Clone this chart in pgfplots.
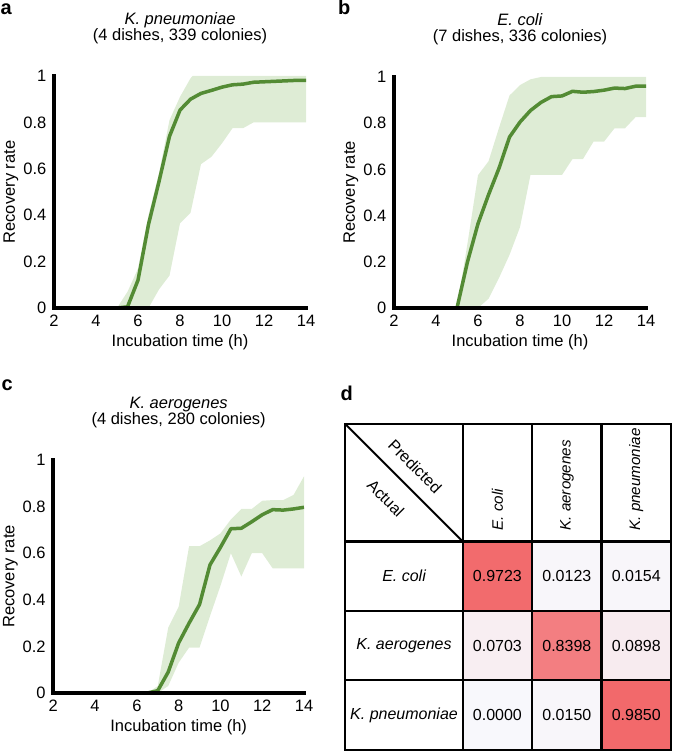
\documentclass[border=0pt]{standalone}
\usepackage{fontspec}
\setmainfont{Liberation Sans}
\usepackage{pgfplots}
\usepackage{pgfplotstable}
\pgfplotsset{compat=1.18}
\usepgfplotslibrary{fillbetween}
\definecolor{lgreen}{RGB}{83,139,52}
\definecolor{bgreen}{RGB}{222,236,213}
\newcommand{\fs}{\fontsize{16.5}{15.7}\selectfont}
\newcommand{\ft}{\fontsize{16}{19}\selectfont}
\newcommand{\fh}{\fontsize{15.2}{18}\selectfont}

\pgfplotstableread{
t v
2 0
5 0
5.5 0.005
6 0.12
6.5 0.36
7 0.545
7.5 0.74
8 0.853
8.5 0.90
9 0.925
9.5 0.938
10 0.952
10.5 0.962
11 0.965
11.5 0.973
12 0.975
12.5 0.977
13 0.979
13.5 0.981
14 0.981
}\aline
\pgfplotstableread{
t v
2 0
5 0
5.5 0.07
6 0.17
6.5 0.40
7 0.58
7.5 0.81
8 0.91
8.5 0.99
8.6 1
14 1
}\aup
\pgfplotstableread{
t v
2 0
6.5 0
7 0.08
7.5 0.14
8 0.365
8.5 0.41
9 0.62
9.5 0.652
10 0.71
10.5 0.775
11 0.775
11.5 0.80
14 0.80
}\alow

\pgfplotstableread{
t v
2 0
5 0
5.5 0.2
6 0.365
6.5 0.49
7 0.605
7.5 0.74
8 0.805
8.5 0.855
9 0.89
9.5 0.915
10 0.918
10.5 0.938
11 0.934
11.5 0.937
12 0.943
12.5 0.952
13 0.95
13.5 0.96
14 0.96
}\bline
\pgfplotstableread{
t v
2 0
5 0
5.5 0.28
6 0.575
6.5 0.635
7 0.78
7.5 0.92
8 0.965
8.5 0.99
9 1
14 1
}\bup
\pgfplotstableread{
t v
2 0
6 0
6.5 0.04
7 0.13
7.5 0.23
8 0.35
8.5 0.576
10 0.576
10.5 0.645
11 0.645
11.5 0.72
12 0.72
12.5 0.778
13 0.778
13.5 0.826
14 0.826
}\blow

\pgfplotstableread{
t v
2 0
6.5 0
7 0.01
7.5 0.09
8 0.215
8.5 0.30
9 0.38
9.5 0.55
10 0.625
10.5 0.705
11 0.707
11.5 0.735
12 0.765
12.5 0.787
13 0.785
13.5 0.79
14 0.797
}\cline
\pgfplotstableread{
t v
2 0
6.5 0
7 0.03
7.5 0.28
8 0.37
8.5 0.63
9 0.63
9.5 0.655
10 0.685
10.5 0.745
11 0.79
11.5 0.79
12 0.825
12.5 0.828
13 0.828
13.5 0.85
14 0.93
}\cup
\pgfplotstableread{
t v
2 0
7 0
7.5 0.03
8 0.13
8.5 0.195
9 0.195
9.5 0.33
10 0.46
10.5 0.6
11 0.5
11.5 0.6
12 0.6
12.5 0.535
14 0.535
}\clow

\pgfplotsset{
 curve/.style={
  scale only axis, axis on top,
  xmin=2,xmax=14,ymin=0,ymax=1,
  xtick={2,4,6,8,10,12,14}, xticklabels={2,4,6,8,10,12,14},
  ytick={0,0.2,0.4,0.6,0.8,1}, yticklabels={0,0.2,0.4,0.6,0.8,1},
  axis x line*=bottom, axis y line*=left,
  axis line style={line width=4pt, line cap=rect, -},
  every outer x axis line/.append style={-},
  every outer y axis line/.append style={-},
  major tick length=0pt,
  tick style={draw=none},
  tick label style={font=\fs},
  label style={font=\fs},
  yticklabel style={anchor=east, inner sep=0pt, xshift=-7.5pt},
  xticklabel style={anchor=base, inner sep=0pt, yshift=-18.5pt},
  xlabel={Incubation time (h)}, ylabel={Recovery rate},
  title style={font=\fs, align=center, anchor=south, at={(axis description cs:0.5,1)}, inner sep=0pt, yshift=25.8pt},
 },
 band/.style={fill=bgreen, draw=none},
 mline/.style={lgreen, line width=3.5pt, line join=round},
}

\begin{document}
\begin{tikzpicture}

% panel a
\begin{axis}[curve, at={(54pt,-308pt)}, anchor=south west, width=252pt, height=232pt,
  title={\textit{K. pneumoniae}\\(4 dishes, 339 colonies)},
  xlabel style={at={(axis description cs:0.5,-0.1668)}, anchor=base, inner sep=0pt},
  ylabel style={at={(axis description cs:-0.1548,0.5)}, anchor=base, inner sep=0pt}]
\addplot[name path=U, draw=none] table[x=t,y=v] {\aup};
\addplot[name path=L, draw=none] table[x=t,y=v] {\alow};
\addplot[band] fill between[of=U and L];
\addplot[mline] table[x=t,y=v] {\aline};
\end{axis}

% panel b
\begin{axis}[curve, at={(394pt,-308pt)}, anchor=south west, width=252pt, height=231pt,
  title={\textit{E. coli}\\(7 dishes, 336 colonies)},
  xlabel style={at={(axis description cs:0.5,-0.1675)}, anchor=base, inner sep=0pt},
  ylabel style={at={(axis description cs:-0.1548,0.5)}, anchor=base, inner sep=0pt}]
\addplot[name path=U, draw=none] table[x=t,y=v] {\bup};
\addplot[name path=L, draw=none] table[x=t,y=v] {\blow};
\addplot[band] fill between[of=U and L];
\addplot[mline] table[x=t,y=v] {\bline};
\end{axis}

% panel c
\begin{axis}[curve, at={(53.3pt,-693pt)}, anchor=south west, width=250.7pt, height=233pt,
  title={\textit{K. aerogenes}\\(4 dishes, 280 colonies)},
  xlabel style={at={(axis description cs:0.5,-0.1661)}, anchor=base, inner sep=0pt},
  ylabel style={at={(axis description cs:-0.1556,0.5)}, anchor=base, inner sep=0pt}]
\addplot[name path=U, draw=none] table[x=t,y=v] {\cup};
\addplot[name path=L, draw=none] table[x=t,y=v] {\clow};
\addplot[band] fill between[of=U and L];
\addplot[mline] table[x=t,y=v] {\cline};
\end{axis}

% panel d
\begin{axis}[at={(462.7pt,-749.7pt)}, anchor=south west, scale only axis,
  width=208.3pt, height=208.3pt, xmin=0, xmax=3, ymin=0, ymax=3,
  hide axis, clip=false,
  colormap={pinks}{rgb255=(248,248,252) rgb255=(242,104,106)},
  point meta min=0, point meta max=1]
\addplot[matrix plot*, mesh/cols=3, point meta=explicit, draw=none] table[meta=v] {
x y v
0.5 0.5 0.0000
1.5 0.5 0.0150
2.5 0.5 0.9850
0.5 1.5 0.0703
1.5 1.5 0.8398
2.5 1.5 0.0898
0.5 2.5 0.9723
1.5 2.5 0.0123
2.5 2.5 0.0154
};
\addplot[only marks, mark=none, nodes near coords, point meta=explicit symbolic,
  nodes near coords style={anchor=center, inner sep=0pt, black, font=\ft}] table[meta=lab] {
x y lab
0.5 0.5 0.0000
1.5 0.5 0.0150
2.5 0.5 0.9850
0.5 1.5 0.0703
1.5 1.5 0.8398
2.5 1.5 0.0898
0.5 2.5 0.9723
1.5 2.5 0.0123
2.5 2.5 0.0154
};
\draw[line width=2.3pt] (axis cs:-1.691,0) rectangle (axis cs:3,4.691);
\draw[line width=2.3pt] (axis cs:0,0) -- (axis cs:0,4.691);
\draw[line width=2.3pt] (axis cs:1,0) -- (axis cs:1,4.691);
\draw[line width=2.3pt] (axis cs:2,0) -- (axis cs:2,4.691);
\draw[line width=2.3pt] (axis cs:-1.691,1) -- (axis cs:3,1);
\draw[line width=2.3pt] (axis cs:-1.691,2) -- (axis cs:3,2);
\draw[line width=2.3pt] (axis cs:-1.691,3) -- (axis cs:3,3);
\draw[line width=2pt] (axis cs:-1.691,4.691) -- (axis cs:0,3);
\node[font=\ft\itshape] at (axis cs:-0.845,2.5) {E. coli};
\node[font=\ft\itshape] at (axis cs:-0.845,1.5) {K. aerogenes};
\node[font=\ft\itshape] at (axis cs:-0.845,0.5) {K. pneumoniae};
\node[font=\fh\itshape, rotate=90, anchor=west, inner sep=0pt] at (axis cs:0.5,3.154) {E. coli};
\node[font=\fh\itshape, rotate=90, anchor=west, inner sep=0pt] at (axis cs:1.5,3.154) {K. aerogenes};
\node[font=\fh\itshape, rotate=90, anchor=west, inner sep=0pt] at (axis cs:2.5,3.154) {K. pneumoniae};
\node[font=\ft, rotate=-45, inner sep=0pt] at (axis cs:-0.687,4.080) {Predicted};
\node[font=\ft, rotate=-45, inner sep=0pt] at (axis cs:-1.108,3.622) {Actual};
\end{axis}

\begin{scope}[every node/.style={anchor=base west, inner sep=0pt, font=\bfseries\fontsize{20}{20}\selectfont}]
\node at (0.5pt,-15pt) {a};
\node at (338pt,-15pt) {b};
\node at (1.5pt,-390.5pt) {c};
\node at (340.5pt,-400pt) {d};
\end{scope}
\pgfresetboundingbox
\path[use as bounding box] (0pt,0pt) rectangle (673pt,-751pt);
\end{tikzpicture}
\end{document}
